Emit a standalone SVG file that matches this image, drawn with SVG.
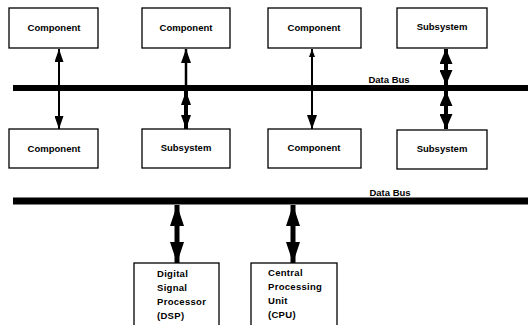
<svg xmlns="http://www.w3.org/2000/svg" width="528" height="325" viewBox="0 0 528 325">
<style>
.box{fill:#fff;stroke:#000;stroke-width:1.3}
.lbl{font-family:"Liberation Sans",Arial,sans-serif;font-size:9.5px;font-weight:bold;fill:#000;text-anchor:middle}
.lft{font-family:"Liberation Sans",Arial,sans-serif;font-size:9.5px;font-weight:bold;fill:#000;letter-spacing:0.3px}
.bus{stroke:#000;fill:none}
.c{stroke:#000;fill:none}
</style>
<defs>
<marker id="hXS" markerUnits="userSpaceOnUse" markerWidth="8" markerHeight="6" refX="8" refY="3" orient="auto-start-reverse"><path d="M0,0 L8,3 L0,6 z"/></marker>
<marker id="hS" markerUnits="userSpaceOnUse" markerWidth="13" markerHeight="9" refX="13" refY="4.5" orient="auto-start-reverse"><path d="M0,0 L13,4.5 L0,9 z"/></marker>
<marker id="hM" markerUnits="userSpaceOnUse" markerWidth="14" markerHeight="10" refX="14" refY="5" orient="auto-start-reverse"><path d="M0,0 L14,5 L0,10 z"/></marker>
<marker id="hL" markerUnits="userSpaceOnUse" markerWidth="15" markerHeight="13" refX="15" refY="6.5" orient="auto-start-reverse"><path d="M0,0 L15,6.5 L0,13 z"/></marker>
<marker id="hXL" markerUnits="userSpaceOnUse" markerWidth="21" markerHeight="14" refX="21" refY="7" orient="auto-start-reverse"><path d="M0,0 L21,7 L0,14 z"/></marker>
</defs>

<g id="buses">
<line class="bus" x1="13" y1="88" x2="528" y2="88" stroke-width="6"/>
<line class="bus" x1="13" y1="201" x2="528" y2="201" stroke-width="7"/>
<text class="lbl" x="389" y="83">Data Bus</text>
<text class="lbl" x="390" y="196">Data Bus</text>
</g>

<g id="connectors">
<line class="c" x1="59" y1="49" x2="59" y2="129" stroke-width="2" marker-start="url(#hS)" marker-end="url(#hS)"/>
<line class="c" x1="186" y1="49" x2="186" y2="85" stroke-width="2.5" marker-start="url(#hM)"/>
<line class="c" x1="186" y1="91" x2="186" y2="129" stroke-width="4" marker-start="url(#hM)" marker-end="url(#hM)"/>
<line class="c" x1="312" y1="49" x2="312" y2="129" stroke-width="2" marker-start="url(#hXS)" marker-end="url(#hM)"/>
<line class="c" x1="446" y1="49" x2="446" y2="85" stroke-width="4" marker-start="url(#hL)" marker-end="url(#hL)"/>
<line class="c" x1="446" y1="91" x2="446" y2="129" stroke-width="4" marker-start="url(#hL)" marker-end="url(#hL)"/>
<line class="c" x1="177" y1="205" x2="177" y2="263" stroke-width="5" marker-start="url(#hXL)" marker-end="url(#hXL)"/>
<line class="c" x1="293" y1="205" x2="293" y2="263" stroke-width="5" marker-start="url(#hXL)" marker-end="url(#hXL)"/>
</g>

<g id="top1"><rect class="box" x="9" y="8" width="89" height="40"/><text class="lbl" x="54" y="31">Component</text></g>
<g id="top2"><rect class="box" x="142" y="8" width="88" height="40"/><text class="lbl" x="186" y="31">Component</text></g>
<g id="top3"><rect class="box" x="268" y="8" width="93" height="40"/><text class="lbl" x="314" y="31">Component</text></g>
<g id="top4"><rect class="box" x="397" y="8" width="90" height="40"/><text class="lbl" x="442" y="30">Subsystem</text></g>

<g id="mid1"><rect class="box" x="9" y="129" width="89" height="39"/><text class="lbl" x="54" y="152">Component</text></g>
<g id="mid2"><rect class="box" x="142" y="129" width="88" height="39"/><text class="lbl" x="186" y="151">Subsystem</text></g>
<g id="mid3"><rect class="box" x="268" y="129" width="93" height="39"/><text class="lbl" x="314" y="151">Component</text></g>
<g id="mid4"><rect class="box" x="397" y="130" width="90" height="39"/><text class="lbl" x="442" y="152">Subsystem</text></g>

<g id="dsp"><rect class="box" x="134" y="263" width="85" height="70"/>
<text class="lft" x="157" y="277">Digital</text>
<text class="lft" x="157" y="291">Signal</text>
<text class="lft" x="157" y="305">Processor</text>
<text class="lft" x="157" y="319">(DSP)</text></g>

<g id="cpu"><rect class="box" x="251" y="263" width="86" height="70"/>
<text class="lft" x="268" y="276">Central</text>
<text class="lft" x="268" y="290">Processing</text>
<text class="lft" x="268" y="304">Unit</text>
<text class="lft" x="268" y="318">(CPU)</text></g>
</svg>
